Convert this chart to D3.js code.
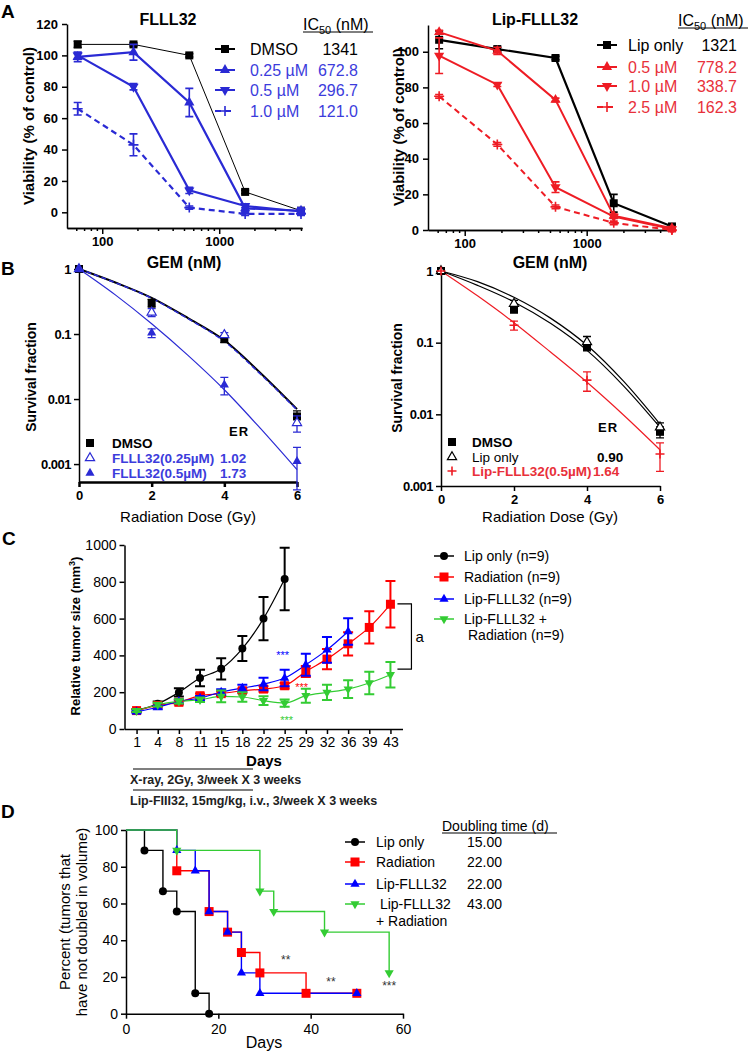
<!DOCTYPE html>
<html>
<head>
<meta charset="utf-8">
<script src="https://cdn.jsdelivr.net/npm/d3@7"></script>
<style>
body { margin: 0; background: #fff; }
svg { font-family: Arial, "Liberation Sans", Helvetica, sans-serif; }
</style>
</head>
<body>
<svg id="fig" width="752" height="1052"></svg>
<script>
// ---------- data ----------
// Panel A: GEM dose (nM) and viability (% of control)
var gemDose = [61.7, 185, 555, 1666, 5000];
var gemMinor = [60, 70, 80, 90, 200, 300, 400, 500, 600, 700, 800, 900, 2000, 3000, 4000, 5000];

var flllDmso = [107, 107, 100, 13, 1];
var flllDmsoErr = [2, 1, 1, 1, 1];
var flll025 = [99, 102, 70, 2.5, 1];
var flll025Err = [3, 5, 9, 2, 2];
var flll05 = [100, 80, 14, 4, 0.5];
var flll05Err = [2, 2, 2, 1, 2];
var flll10 = [66, 43, 3, -1, -1];
var flll10Err = [4, 7, 1, 1, 1];
var flllLabels = ["DMSO", "0.25 \u00b5M", "0.5 \u00b5M", "1.0 \u00b5M"];
var flllIC50 = ["1341", "672.8", "296.7", "121.0"];

var lipOnlyA = [106.7, 101.5, 96.5, 15, 2];
var lipOnlyAErr = [5, 1, 1, 5, 1];
var lip05 = [111, 100.5, 73, 8, 1];
var lip05Err = [1, 2, 1, 1, 1];
var lip10 = [97.8, 81.5, 24, 7.5, 0.5];
var lip10Err = [10, 1, 3, 1, 1];
var lip25 = [75, 48, 13, 4, 0];
var lip25Err = [1, 1, 1, 1, 1];
var lipLabels = ["Lip only", "0.5 \u00b5M", "1.0 \u00b5M", "2.5 \u00b5M"];
var lipIC50 = ["1321", "778.2", "338.7", "162.3"];

// Panel B: radiation dose (Gy) and survival fraction
var radDose = [0, 2, 4, 6];
var fitDose = [0, 1, 2, 3, 4, 5, 6];
var sfDmso = [1, 0.30, 0.084, 0.0054];
var sfDmsoErr = [0, 0.04, 0.01, 0.0012];
var sfFlll025 = [1, 0.215, 0.097, 0.0043];
var sfFlll025Err = [0, 0.03, 0.008, 0.0012];
var sfFlll05 = [1, 0.104, 0.0166, 0.0011];
var sfFlll05Err = [0, 0.016, 0.005, 0.0007];
var fitDmso = [1, 0.62, 0.36, 0.176, 0.08, 0.025, 0.007];
var fitFlll025 = [1, 0.615, 0.355, 0.172, 0.077, 0.024, 0.0068];
var fitFlll05 = [1, 0.40, 0.144, 0.047, 0.0139, 0.0035, 0.00082];
var flllER = ["", "1.02", "1.73"];

var sfDmso2 = [1, 0.29, 0.087, 0.0057];
var sfDmso2Err = [0, 0.03, 0.01, 0.001];
var sfLipOnly = [1, 0.35, 0.102, 0.0066];
var sfLipOnlyErr = [0, 0.04, 0.02, 0.001];
var sfLipFlll = [1, 0.175, 0.030, 0.0028];
var sfLipFlllErr = [0, 0.025, 0.009, 0.0012];
var fitLipOnly = [1, 0.71, 0.43, 0.22, 0.092, 0.029, 0.0073];
var fitDmso2 = [1, 0.63, 0.37, 0.186, 0.078, 0.025, 0.0066];
var fitLipFlll = [1, 0.45, 0.19, 0.074, 0.028, 0.0098, 0.0032];
var lipER = ["", "0.90", "1.64"];

// Panel C: tumour growth
var days = [1, 4, 8, 11, 15, 18, 22, 25, 29, 32, 36, 39, 43];
var growLip = [101, 137, 199, 277, 327, 437, 600, 815];
var growLipErr = [8, 12, 23, 45, 58, 68, 118, 170];
var growRad = [100, 128, 145, 181, 192, 208, 217, 235, 313, 380, 463, 552, 678];
var growRadErr = [8, 10, 12, 12, 12, 12, 15, 15, 30, 55, 63, 88, 127];
var growFlll = [93, 118, 150, 168, 201, 222, 244, 277, 349, 430, 530];
var growFlllErr = [8, 10, 10, 12, 15, 18, 34, 45, 60, 70, 72];
var growCombo = [100, 132, 150, 159, 177, 174, 154, 141, 181, 199, 217, 250, 295];
var growComboErr = [8, 10, 12, 12, 32, 26, 24, 20, 38, 42, 48, 61, 69];
var groupLabels = ["Lip only (n=9)", "Radiation (n=9)", "Lip-FLLL32 (n=9)", "Lip-FLLL32 +"];

// Panel D: percent of tumours not doubled (Kaplan-Meier steps)
var kmLipT = [0, 4, 8, 11, 15, 18];
var kmLipS = [100, 88.9, 66.7, 55.6, 11.1, 0];
var kmRadT = [0, 11, 18, 22, 25, 29, 39, 50];
var kmRadS = [100, 77.8, 55.6, 44.4, 33.3, 22.2, 11.1, 11.1];
var kmFlllT = [0, 11, 15, 18, 22, 25, 29, 50];
var kmFlllS = [100, 88.9, 77.8, 55.6, 44.4, 22.2, 11.1, 11.1];
var kmComboT = [0, 11, 29, 32, 43, 57];
var kmComboS = [100, 88.9, 66.7, 55.6, 44.4, 22.2];
var kmLabels = ["Lip only", "Radiation", "Lip-FLLL32", " Lip-FLLL32"];
var doublingTime = ["15.00", "22.00", "22.00", "43.00"];

// ---------- helpers ----------
var FONT = "Arial, 'Liberation Sans', Helvetica, sans-serif";
var svg = d3.select("#fig");

function symPath(type, size) {
  if (type == "square") return d3.symbol(d3.symbolSquare, size * size)();
  if (type == "circle") return d3.symbol(d3.symbolCircle, Math.PI * size * size / 4)();
  if (type == "tri" || type == "tridown" || type == "opentri") return d3.symbol(d3.symbolTriangle, size * size * 0.45)();
  var h = size / 2;
  return "M" + (-h) + ",0H" + h + "M0," + (-h) + "V" + h; // plus
}

function marker(g, type, x, y, size, color) {
  var p = g.append("path")
    .attr("d", symPath(type, size))
    .attr("transform", "translate(" + x + "," + y + ")" + (type == "tridown" ? " rotate(180)" : ""));
  if (type == "plus") p.attr("fill", "none").attr("stroke", color).attr("stroke-width", 1.6);
  else if (type == "opentri") p.attr("fill", "#fff").attr("stroke", color).attr("stroke-width", 1.2);
  else p.attr("fill", color);
}

function errBar(g, x, y0, y1, color, w, cap) {
  g.append("path")
    .attr("d", "M" + (x - cap) + "," + y0 + "H" + (x + cap) + "M" + x + "," + y0 + "V" + y1 + "M" + (x - cap) + "," + y1 + "H" + (x + cap))
    .attr("fill", "none").attr("stroke", color).attr("stroke-width", w);
}

function styleAxis(g, size, weight, lw) {
  g.attr("font-family", FONT).attr("font-size", size).attr("font-weight", weight);
  g.select(".domain").attr("stroke", "#000").attr("stroke-width", lw);
  g.selectAll(".tick line").attr("stroke", "#000").attr("stroke-width", lw);
  g.selectAll(".tick text").attr("fill", "#000");
}

function text(x, y, str, opt) {
  opt = opt || {};
  return svg.append("text").attr("x", x).attr("y", y).text(str)
    .attr("font-size", opt.size || 14)
    .attr("font-weight", opt.weight || "normal")
    .attr("fill", opt.color || "#000")
    .attr("text-anchor", opt.anchor || "start");
}

function vtext(x, y, str, opt) {
  return text(0, 0, str, Object.assign({anchor: "middle"}, opt))
    .attr("transform", "translate(" + x + "," + y + ") rotate(-90)");
}

// ---------- panel A ----------
function panelA(sc, yTicks, series, legend) {
  var gx = svg.append("g").attr("transform", "translate(0," + sc.y.range()[0] + ")");
  gx.call(d3.axisBottom(sc.x).tickValues(gemMinor).tickSize(3).tickFormat("").tickSizeOuter(0));
  styleAxis(gx, 13, "bold", 1.5);
  var gx2 = svg.append("g").attr("transform", "translate(0," + sc.y.range()[0] + ")");
  gx2.call(d3.axisBottom(sc.x).tickValues([100, 1000]).tickSize(6).tickPadding(3).tickFormat(d3.format("d")).tickSizeOuter(0));
  styleAxis(gx2, 13, "bold", 1.5);
  var gy = svg.append("g").attr("transform", "translate(" + sc.x.range()[0] + ",0)");
  gy.call(d3.axisLeft(sc.y).tickValues(yTicks).tickSize(5).tickPadding(4).tickSizeOuter(0));
  styleAxis(gy, 13, "bold", 1.5);

  var g = svg.append("g");
  var line = d3.line().x(function(d, i) { return sc.x(gemDose[i]); }).y(function(d) { return sc.y(d); });
  series.forEach(function(s) {
    g.append("path").attr("d", line(s.vals)).attr("fill", "none")
      .attr("stroke", s.color).attr("stroke-width", s.w).attr("stroke-dasharray", s.dash || null);
    s.vals.forEach(function(v, i) {
      var x = sc.x(gemDose[i]);
      errBar(g, x, sc.y(v - s.errs[i]), sc.y(v + s.errs[i]), s.color, 1.6, 4);
      marker(g, s.sym, x, sc.y(v), s.sym == "square" ? 8 : 10, s.color);
    });
  });

  // legend
  series.forEach(function(s, i) {
    var y = legend.rows[i];
    svg.append("line").attr("x1", legend.x0).attr("x2", legend.x0 + 20).attr("y1", y).attr("y2", y)
      .attr("stroke", s.color).attr("stroke-width", 2).attr("stroke-dasharray", s.dash || null);
    marker(svg, s.sym, legend.x0 + 10, y, s.sym == "square" ? 8 : 10, s.color);
    text(legend.tx, y + 6, s.label, {size: 16, color: s.text});
    text(legend.vx, y + 6, s.ic, {size: 16, color: s.text, anchor: "end"});
  });
  var h = text(legend.hx, legend.hy, "IC", {size: 16});
  h.append("tspan").attr("font-size", 11).attr("dy", 4).text("50");
  h.append("tspan").attr("dy", -4).text(" (nM)");
  svg.append("line").attr("x1", legend.hx).attr("x2", legend.hx + 70).attr("y1", legend.hy + 2).attr("y2", legend.hy + 2)
    .attr("stroke", "#000").attr("stroke-width", 1);
}

var BLUE = "#2a2ad4", BLUE_T = "#3c3cdc", RED = "#ee1c24", RED_T = "#e8303a";

panelA(
  {x: d3.scaleLog().domain([50, 5100]).range([67, 302]), y: d3.scaleLinear().domain([-10, 120]).range([228, 24])},
  [0, 20, 40, 60, 80, 100, 120],
  [
    {label: flllLabels[0], ic: flllIC50[0], vals: flllDmso, errs: flllDmsoErr, color: "#000", text: "#000", w: 1, sym: "square"},
    {label: flllLabels[1], ic: flllIC50[1], vals: flll025, errs: flll025Err, color: BLUE, text: BLUE_T, w: 2.2, sym: "tri"},
    {label: flllLabels[2], ic: flllIC50[2], vals: flll05, errs: flll05Err, color: BLUE, text: BLUE_T, w: 2.2, sym: "tridown"},
    {label: flllLabels[3], ic: flllIC50[3], vals: flll10, errs: flll10Err, color: BLUE, text: BLUE_T, w: 2.2, sym: "plus", dash: "6,4"}
  ],
  {x0: 215, tx: 250, vx: 358, rows: [49, 70, 90, 111], hx: 303, hy: 30}
);

panelA(
  {x: d3.scaleLog().domain([50, 5100]).range([428, 673]), y: d3.scaleLinear().domain([0, 115]).range([230, 25])},
  [0, 20, 40, 60, 80, 100],
  [
    {label: lipLabels[0], ic: lipIC50[0], vals: lipOnlyA, errs: lipOnlyAErr, color: "#000", text: "#000", w: 2.2, sym: "square"},
    {label: lipLabels[1], ic: lipIC50[1], vals: lip05, errs: lip05Err, color: RED, text: RED_T, w: 2, sym: "tri"},
    {label: lipLabels[2], ic: lipIC50[2], vals: lip10, errs: lip10Err, color: RED, text: RED_T, w: 2, sym: "tridown"},
    {label: lipLabels[3], ic: lipIC50[3], vals: lip25, errs: lip25Err, color: RED, text: RED_T, w: 2, sym: "plus", dash: "6,4"}
  ],
  {x0: 597, tx: 628, vx: 737, rows: [45, 67, 86, 107], hx: 678, hy: 26}
);

text(1, 18, "A", {size: 19, weight: "bold"});
text(168, 25, "FLLL32", {size: 16, weight: "bold", anchor: "middle"});
text(535, 25, "Lip-FLLL32", {size: 16, weight: "bold", anchor: "middle"});
vtext(34, 126, "Viability (%  of control)", {size: 15, weight: "bold"});
vtext(404, 127, "Viability (%  of control)", {size: 15, weight: "bold"});
text(184, 268, "GEM (nM)", {size: 16, weight: "bold", anchor: "middle"});
text(550, 268, "GEM (nM)", {size: 16, weight: "bold", anchor: "middle"});

// ---------- panel B ----------
function panelB(sc, xLw, fits, pts, legend) {
  var gx = svg.append("g").attr("transform", "translate(0," + sc.y.range()[0] + ")");
  gx.call(d3.axisBottom(sc.x).tickValues(radDose).tickSize(5).tickPadding(4)
    .tickFormat(d3.format("d")).tickSizeOuter(0));
  styleAxis(gx, 13, "bold", xLw);
  var gy = svg.append("g").attr("transform", "translate(" + sc.x.range()[0] + ",0)");
  gy.call(d3.axisLeft(sc.y).tickValues([1, 0.1, 0.01, 0.001]).tickSize(5).tickPadding(3)
    .tickFormat(function(d) { return String(d); }).tickSizeOuter(0));
  styleAxis(gy, 13, "bold", 1.5);
  gy.selectAll(".tick text").attr("letter-spacing", -0.5);

  var g = svg.append("g");
  var line = d3.line().curve(d3.curveMonotoneX)
    .x(function(d, i) { return sc.x(fitDose[i]); }).y(function(d) { return sc.y(d); });
  fits.forEach(function(f) {
    g.append("path").attr("d", line(f.vals)).attr("fill", "none")
      .attr("stroke", f.color).attr("stroke-width", f.w).attr("stroke-dasharray", f.dash || null);
  });
  pts.forEach(function(s) {
    s.vals.forEach(function(v, i) {
      var x = sc.x(radDose[i]);
      if (s.errs[i] > 0) errBar(g, x, sc.y(v - s.errs[i]), sc.y(v + s.errs[i]), s.color, 1.3, 4);
      marker(g, s.sym, x, sc.y(v), s.sym == "square" ? 8 : 9, s.color);
    });
  });

  text(legend.ex, legend.ey, "ER", {size: 13, weight: "bold"}).attr("letter-spacing", 1);
  pts.forEach(function(s, i) {
    var y = legend.rows[i];
    marker(svg, s.sym, legend.mx, y, s.sym == "square" ? 8 : 9, s.color);
    text(legend.tx, y + 5, s.label, {size: 13.5, weight: s.bold ? "bold" : "normal", color: s.text});
    if (s.er) text(legend.vx[i], y + 5, s.er, {size: 13.5, weight: "bold", color: s.text});
  });
}

panelB(
  {x: d3.scaleLinear().domain([0, 6]).range([79, 297]), y: d3.scaleLog().domain([0.00053, 1]).range([482, 269])},
  2.5,
  [
    {vals: fitDmso, color: "#000", w: 2},
    {vals: fitFlll025, color: BLUE, w: 1.5, dash: "5,3"},
    {vals: fitFlll05, color: BLUE, w: 1.2}
  ],
  [
    {label: "DMSO", vals: sfDmso, errs: sfDmsoErr, color: "#000", text: "#000", sym: "square", bold: true, er: flllER[0]},
    {label: "FLLL32(0.25\u00b5M)", vals: sfFlll025, errs: sfFlll025Err, color: BLUE, text: BLUE_T, sym: "opentri", bold: true, er: flllER[1]},
    {label: "FLLL32(0.5\u00b5M)", vals: sfFlll05, errs: sfFlll05Err, color: BLUE, text: BLUE_T, sym: "tri", bold: true, er: flllER[2]}
  ],
  {mx: 90, tx: 112, vx: [0, 220, 220], rows: [443, 458, 473], ex: 229, ey: 436}
);

panelB(
  {x: d3.scaleLinear().domain([0, 6]).range([441, 660]), y: d3.scaleLog().domain([0.001, 1]).range([486, 271])},
  1.5,
  [
    {vals: fitLipOnly, color: "#000", w: 1.2},
    {vals: fitDmso2, color: "#000", w: 1.2},
    {vals: fitLipFlll, color: RED, w: 1.2}
  ],
  [
    {label: "DMSO", vals: sfDmso2, errs: sfDmso2Err, color: "#000", text: "#000", sym: "square", bold: true, er: lipER[0]},
    {label: "Lip only", vals: sfLipOnly, errs: sfLipOnlyErr, color: "#000", text: "#000", sym: "opentri", bold: false, er: lipER[1]},
    {label: "Lip-FLLL32(0.5\u00b5M)", vals: sfLipFlll, errs: sfLipFlllErr, color: RED, text: RED_T, sym: "plus", bold: true, er: lipER[2]}
  ],
  {mx: 452, tx: 472, vx: [0, 597, 593], rows: [442, 457, 471], ex: 598, ey: 432}
);

text(1, 275, "B", {size: 19, weight: "bold"});
vtext(36, 377, "Survival fraction", {size: 14, weight: "bold"});
vtext(402, 378, "Survival fraction", {size: 14, weight: "bold"});
text(188, 522, "Radiation Dose (Gy)", {size: 15, anchor: "middle"});
text(550, 522, "Radiation Dose (Gy)", {size: 15, anchor: "middle"});

// ---------- panel C ----------
var cx = d3.scalePoint().domain(days).range([124.5, 402.5]).padding(0.57);
var cy = d3.scaleLinear().domain([0, 1000]).range([729, 545]);

var gcx = svg.append("g").attr("transform", "translate(0,729)");
gcx.call(d3.axisBottom(cx).tickSize(5).tickPadding(3).tickSizeOuter(0));
styleAxis(gcx, 14, "normal", 1.5);
var gcy = svg.append("g").attr("transform", "translate(124.5,0)");
gcy.call(d3.axisLeft(cy).tickValues([0, 200, 400, 600, 800, 1000]).tickSize(5).tickPadding(3)
  .tickFormat(d3.format("d")).tickSizeOuter(0));
styleAxis(gcy, 14, "normal", 1.5);

var growth = [
  {vals: growLip, errs: growLipErr, color: "#000", sym: "circle"},
  {vals: growRad, errs: growRadErr, color: "#ff0000", sym: "square"},
  {vals: growFlll, errs: growFlllErr, color: "#0000ff", sym: "tri"},
  {vals: growCombo, errs: growComboErr, color: "#33cc33", sym: "tridown"}
];
var gc = svg.append("g");
var cline = d3.line().curve(d3.curveMonotoneX)
  .x(function(d, i) { return cx(days[i]); }).y(function(d) { return cy(d); });
growth.forEach(function(s) {
  gc.append("path").attr("d", cline(s.vals)).attr("fill", "none").attr("stroke", s.color).attr("stroke-width", 1.2);
});
growth.forEach(function(s) {
  s.vals.forEach(function(v, i) {
    var x = cx(days[i]);
    errBar(gc, x, cy(v - s.errs[i]), cy(v + s.errs[i]), s.color, 2, 5);
    marker(gc, s.sym, x, cy(v), s.sym == "circle" ? 8 : 9, s.color);
  });
});

// significance marks
text(cx(25) - 2, cy(400) + 4, "***", {size: 11, color: "#0000ff", anchor: "middle"});
text(cx(25) + 17, cy(230) + 4, "***", {size: 11, color: "#ff0000", anchor: "middle"});
text(cx(25) + 2, cy(50) + 4, "***", {size: 11, color: "#33cc33", anchor: "middle"});
var bx = cx(43) + 21;
svg.append("path").attr("d", "M" + (bx - 14) + "," + cy(680) + "H" + bx + "V" + cy(325) + "H" + (bx - 14))
  .attr("fill", "none").attr("stroke", "#000").attr("stroke-width", 1.2);
text(bx + 4, cy(500) + 5, "a", {size: 15});

// legend
var cRows = [556, 577, 599, 619];
growth.forEach(function(s, i) {
  svg.append("line").attr("x1", 434).attr("x2", 454).attr("y1", cRows[i]).attr("y2", cRows[i]).attr("stroke", s.color).attr("stroke-width", 1.5);
  marker(svg, s.sym, 444, cRows[i], s.sym == "circle" ? 8 : 9, s.color);
  text(464, cRows[i] + 5, groupLabels[i], {size: 14});
});
text(468, 640, "Radiation (n=9)", {size: 14});

text(2, 545, "C", {size: 19, weight: "bold"});
var ylab = vtext(80, 636, "Relative tumor size (mm", {size: 13, weight: "bold"});
ylab.append("tspan").attr("font-size", 9).attr("dy", -5).text("3");
ylab.append("tspan").attr("dy", 5).text(")");
text(264, 766, "Days", {size: 15, weight: "bold", anchor: "middle"});
svg.append("line").attr("x1", 133).attr("x2", 253).attr("y1", 769).attr("y2", 769).attr("stroke", "#000").attr("stroke-width", 1.2);
text(130, 784, "X-ray, 2Gy, 3/week X 3 weeks", {size: 12.5, weight: "bold"}).attr("fill", "#222");
svg.append("line").attr("x1", 133).attr("x2", 253).attr("y1", 790).attr("y2", 790).attr("stroke", "#000").attr("stroke-width", 1.2);
text(130, 805, "Lip-FIII32, 15mg/kg, i.v., 3/week X 3 weeks", {size: 12.5, weight: "bold"}).attr("fill", "#222");

// ---------- panel D ----------
var dx = d3.scaleLinear().domain([0, 60]).range([126, 403]);
var dy = d3.scaleLinear().domain([0, 100]).range([1013.7, 830]);

var gdx = svg.append("g").attr("transform", "translate(0,1013.7)");
gdx.call(d3.axisBottom(dx).tickValues([0, 20, 40, 60]).tickSize(5).tickPadding(5).tickSizeOuter(0));
styleAxis(gdx, 14, "normal", 1.5);
var gdy = svg.append("g").attr("transform", "translate(126,0)");
gdy.call(d3.axisLeft(dy).tickValues([0, 20, 40, 60, 80, 100]).tickSize(5).tickPadding(3).tickSizeOuter(0));
styleAxis(gdy, 14, "normal", 1.5);

var km = [
  {t: kmLipT, s: kmLipS, color: "#000", sym: "circle"},
  {t: kmRadT, s: kmRadS, color: "#ff0000", sym: "square"},
  {t: kmFlllT, s: kmFlllS, color: "#0000ff", sym: "tri"},
  {t: kmComboT, s: kmComboS, color: "#33cc33", sym: "tridown"}
];
var gd = svg.append("g");
km.forEach(function(k) {
  var line = d3.line().curve(d3.curveStepAfter)
    .x(function(d, i) { return dx(k.t[i]); }).y(function(d) { return dy(d); });
  gd.append("path").attr("d", line(k.s)).attr("fill", "none").attr("stroke", k.color).attr("stroke-width", 1.4);
});
km.forEach(function(k) {
  k.s.forEach(function(v, i) {
    if (i > 0) marker(gd, k.sym, dx(k.t[i]), dy(v), k.sym == "circle" ? 8 : 9, k.color);
  });
});

text(dx(34.6), dy(29) + 4, "**", {size: 12, color: "#333", anchor: "middle"});
text(dx(44.4), dy(17) + 4, "**", {size: 12, color: "#333", anchor: "middle"});
text(dx(57), dy(15) + 4, "***", {size: 12, color: "#333", anchor: "middle"});

var dRows = [842, 862, 884, 904];
km.forEach(function(k, i) {
  svg.append("line").attr("x1", 345).attr("x2", 365).attr("y1", dRows[i]).attr("y2", dRows[i]).attr("stroke", k.color).attr("stroke-width", 1.5);
  marker(svg, k.sym, 355, dRows[i], k.sym == "circle" ? 8 : 9, k.color);
  text(376, dRows[i] + 5, kmLabels[i], {size: 14}).attr("xml:space", "preserve");
  text(467, dRows[i] + 5, doublingTime[i], {size: 14});
});
text(376, 926, "+ Radiation", {size: 14});
text(442, 831, "Doubling time (d)", {size: 14});
svg.append("line").attr("x1", 442).attr("x2", 557).attr("y1", 833).attr("y2", 833).attr("stroke", "#000").attr("stroke-width", 1);

text(1, 818, "D", {size: 19, weight: "bold"});
vtext(70, 922, "Percent (tumors that", {size: 15});
vtext(87, 922, "have not doubled in volume)", {size: 15});
text(264, 1048, "Days", {size: 16, anchor: "middle"});
</script>
</body>
</html>
